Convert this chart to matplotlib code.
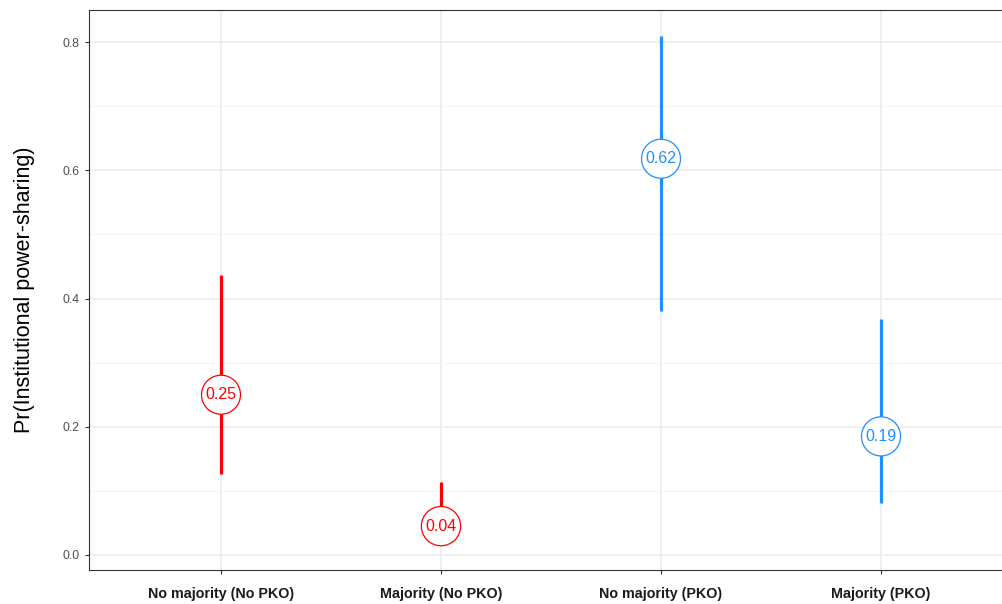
import matplotlib
matplotlib.use("Agg")
import matplotlib.pyplot as plt

plt.rcParams['font.family'] = ['Liberation Sans', 'DejaVu Sans']

categories = ["No majority (No PKO)", "Majority (No PKO)", "No majority (PKO)", "Majority (PKO)"]
estimates = [0.25, 0.045, 0.618, 0.185]
lower = [0.126, 0.016, 0.381, 0.081]
upper = [0.436, 0.114, 0.810, 0.368]
labels = ["0.25", "0.04", "0.62", "0.19"]
colors = ["#FF0000", "#FF0000", "#1E90FF", "#1E90FF"]

fig = plt.figure(figsize=(10.03, 6.04), dpi=100)
ax = fig.add_axes([89 / 1003, 34 / 604, 924 / 1003, 560 / 604])

x = list(range(1, len(categories) + 1))
for xi, est, lo, hi, lab, col in zip(x, estimates, lower, upper, labels, colors):
    ax.vlines(xi, lo, hi, color=col, linewidth=2.3, zorder=3)
    ax.text(xi, est, lab, ha="center", va="center", color=col, fontsize=11.5, zorder=4,
            bbox=dict(boxstyle="circle,pad=0.25", facecolor="white", edgecolor=col, linewidth=0.9))

ax.set_xlim(0.4, 4.6)
ax.set_ylim(-0.0234, 0.85)
ax.set_xticks(x)
ax.set_xticklabels(categories, fontweight="bold", fontsize=10.3, color="#1a1a1a")
ax.set_yticks([0.0, 0.2, 0.4, 0.6, 0.8])
ax.set_yticklabels(["0.0", "0.2", "0.4", "0.6", "0.8"], fontsize=8.8, color="#4d4d4d")
ax.set_yticks([0.1, 0.3, 0.5, 0.7], minor=True)
ax.tick_params(axis="both", which="major", length=3, color="#333333", width=0.8)
ax.tick_params(axis="x", pad=9)
ax.tick_params(axis="y", which="minor", length=0)
ax.grid(which="major", color="#EBEBEB", linewidth=1.1)
ax.grid(which="minor", axis="y", color="#F4F4F4", linewidth=0.8)
ax.set_axisbelow(True)
for sp in ax.spines.values():
    sp.set_color("#333333")
    sp.set_linewidth(0.8)

ax.set_ylabel("Pr(Institutional power-sharing)", fontsize=15.5, labelpad=20)

fig.savefig("out.png", dpi=100)
